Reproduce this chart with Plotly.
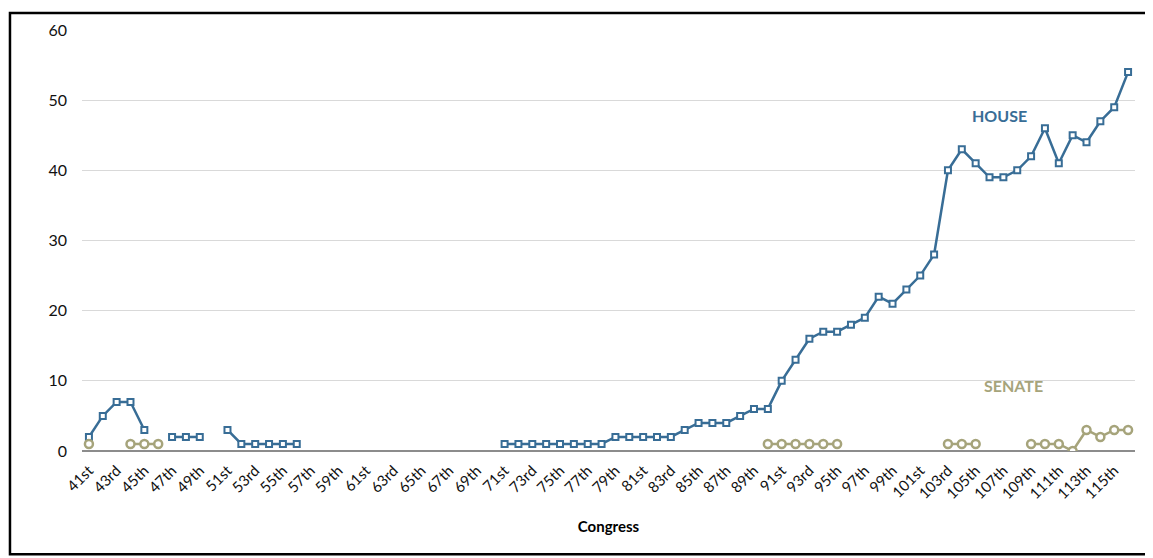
import plotly.graph_objects as go

congresses = ["41st","42nd","43rd","44th","45th","46th","47th","48th","49th","50th",
              "51st","52nd","53rd","54th","55th","56th","57th","58th","59th","60th",
              "61st","62nd","63rd","64th","65th","66th","67th","68th","69th","70th",
              "71st","72nd","73rd","74th","75th","76th","77th","78th","79th","80th",
              "81st","82nd","83rd","84th","85th","86th","87th","88th","89th","90th",
              "91st","92nd","93rd","94th","95th","96th","97th","98th","99th","100th",
              "101st","102nd","103rd","104th","105th","106th","107th","108th","109th","110th",
              "111th","112th","113th","114th","115th","116th"]

N = None
house = [2, 5, 7, 7, 3, N, 2, 2, 2, N,
         3, 1, 1, 1, 1, 1, N, N, N, N,
         N, N, N, N, N, N, N, N, N, N,
         1, 1, 1, 1, 1, 1, 1, 1, 2, 2,
         2, 2, 2, 3, 4, 4, 4, 5, 6, 6,
         10, 13, 16, 17, 17, 18, 19, 22, 21, 23,
         25, 28, 40, 43, 41, 39, 39, 40, 42, 46,
         41, 45, 44, 47, 49, 54]

senate = [1, N, N, 1, 1, 1, N, N, N, N,
          N, N, N, N, N, N, N, N, N, N,
          N, N, N, N, N, N, N, N, N, N,
          N, N, N, N, N, N, N, N, N, N,
          N, N, N, N, N, N, N, N, N, 1,
          1, 1, 1, 1, 1, N, N, N, N, N,
          N, N, 1, 1, 1, N, N, N, 1, 1,
          1, 0, 3, 2, 3, 3]

tick_labels = congresses[::2]
y_ticks = [0, 10, 20, 30, 40, 50, 60]

HOUSE_C = "#386D96"
SENATE_C = "#A6A47B"

fig = go.Figure()
fig.add_trace(go.Scatter(
    x=congresses, y=house, mode="lines+markers", name="HOUSE",
    line=dict(color=HOUSE_C, width=2.5),
    marker=dict(symbol="square", size=6, color="white", line=dict(color=HOUSE_C, width=2)),
    connectgaps=False))
fig.add_trace(go.Scatter(
    x=congresses, y=senate, mode="lines+markers", name="SENATE",
    line=dict(color=SENATE_C, width=2.5),
    marker=dict(symbol="circle", size=8, color="white", line=dict(color=SENATE_C, width=2.5)),
    connectgaps=False))

fig.update_layout(
    width=1145, height=550,
    margin=dict(l=74, r=18, t=19, b=107),
    paper_bgcolor="white", plot_bgcolor="white",
    showlegend=False,
    font=dict(family="Lato, Open Sans, sans-serif", size=14, color="#000"),
    xaxis=dict(
        type="category", categoryorder="array", categoryarray=congresses,
        range=[-0.5, len(congresses) - 0.5],
        tickmode="array", tickvals=tick_labels, ticktext=tick_labels,
        tickangle=-45, tickfont=dict(size=15, color="#111"), ticklabelstandoff=7,
        showgrid=False, showline=False, zeroline=False, ticks="",
        title=dict(text="<b>Congress</b>", font=dict(size=15, color="#000"), standoff=20),
    ),
    yaxis=dict(
        range=[0, 60], tickvals=y_ticks, showgrid=True, gridcolor="#D9D9D9", gridwidth=1,
        zeroline=True, zerolinecolor="#8C8C8C", zerolinewidth=1.5,
        showline=False, ticks="", ticklabelstandoff=14,
        tickfont=dict(size=16, color="#111"),
    ),
    annotations=[
        dict(x=65.7, y=47.8, xref="x", yref="y", text="<b>HOUSE</b>", showarrow=False,
             font=dict(size=16, color=HOUSE_C)),
        dict(x=66.7, y=9.3, xref="x", yref="y", text="<b>SENATE</b>", showarrow=False,
             font=dict(size=16, color=SENATE_C)),
    ],
    shapes=[
        dict(type="rect", xref="paper", yref="paper",
             x0=-0.0684, x1=1.0142, y0=-0.2453, y1=1.0401,
             line=dict(color="#000", width=2.5), fillcolor="rgba(0,0,0,0)", layer="above"),
    ],
)

fig.write_html("out.html")
